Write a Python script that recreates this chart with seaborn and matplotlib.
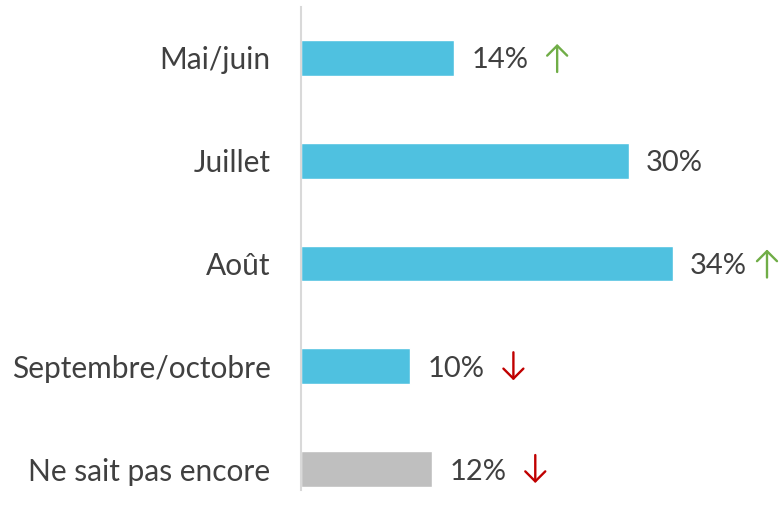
import matplotlib
matplotlib.use("Agg")
import matplotlib.pyplot as plt
import matplotlib.transforms as mtransforms
import seaborn as sns
import pandas as pd

categories = ["Mai/juin", "Juillet", "Août", "Septembre/octobre", "Ne sait pas encore"]
values = [14, 30, 34, 10, 12]
trends = ["up", "", "up", "down", "down"]
bar_colors = ["#4FC1E0", "#4FC1E0", "#4FC1E0", "#4FC1E0", "#BFBFBF"]

sns.set_theme(style="white")
plt.rcParams["font.family"] = ["Lato", "DejaVu Sans"]

df = pd.DataFrame({"cat": categories, "val": values})

W, H = 783, 517
fig = plt.figure(figsize=(W / 100, H / 100), dpi=100)
ax = fig.add_axes([301 / W, (H - 490) / H, (W - 301) / W, 483 / H])
sns.barplot(data=df, x="val", y="cat", hue="cat", palette=bar_colors,
            legend=False, width=0.35, ax=ax, saturation=1)

px_per_unit = 10.94
ax.set_xlim(0, (W - 301) / px_per_unit)
ax.set_ylim(4.204, -0.496)
for s in ["top", "right", "bottom"]:
    ax.spines[s].set_visible(False)
ax.spines["left"].set_color("#D9D9D9")
ax.spines["left"].set_linewidth(1.5)
ax.set_xticks([])
ax.set_xlabel("")
ax.set_ylabel("")
ax.tick_params(axis="y", length=0, pad=22, labelsize=21.5, labelcolor="#404040")

for i, (v, t) in enumerate(zip(values, trends)):
    ax.annotate(f"{v}%", (v, i), xytext=(17, 0), textcoords="offset pixels",
                ha="left", va="center_baseline", fontsize=21, color="#404040")
    if t:
        col = "#70AD47" if t == "up" else "#C00000"
        bar_end_px = 301 + v * px_per_unit
        dx = min(103, (W - 16) - bar_end_px)
        top = mtransforms.offset_copy(ax.transData, fig=fig, x=dx, y=14, units="dots")
        bot = mtransforms.offset_copy(ax.transData, fig=fig, x=dx, y=-14, units="dots")
        if t == "up":
            start, end = bot, top
        else:
            start, end = top, bot
        ax.annotate("", xy=(v, i), xycoords=end, xytext=(v, i), textcoords=start,
                    arrowprops=dict(arrowstyle="->,head_width=0.36,head_length=0.36",
                                    lw=1.7, color=col, mutation_scale=20,
                                    shrinkA=0, shrinkB=0),
                    annotation_clip=False)

fig.savefig("out.png", dpi=100)
